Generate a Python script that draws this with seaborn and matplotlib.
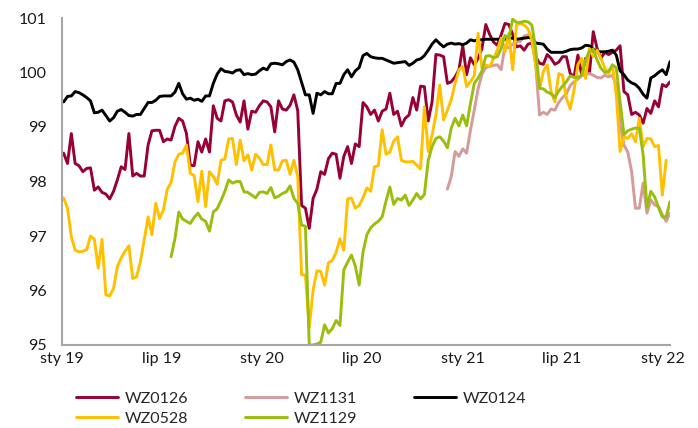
import numpy as np
import pandas as pd
import matplotlib
matplotlib.use("Agg")
import matplotlib.pyplot as plt
from matplotlib.lines import Line2D
import seaborn as sns

nan = np.nan

# Weekly quotes, Jan 2019 - Jan 2022
dates = pd.date_range("2019-01-04", periods=159, freq="7D")

wz0126 = [
    98.52, 98.33, 98.88, 98.33, 98.29, 98.18, 98.24, 98.25, 97.84, 97.90,
    97.80, 97.77, 97.68, 97.82, 98.03, 98.27, 98.22, 98.88, 98.10, 98.15,
    98.10, 98.10, 98.67, 98.93, 98.94, 98.94, 98.73, 98.78, 98.76, 99.01,
    99.16, 99.11,
    98.88, 98.30, 98.29, 98.73, 98.54, 98.78, 98.54, 99.39, 99.16, 99.11,
    99.48, 99.50, 99.46, 99.22, 99.09, 99.48, 98.96, 99.29, 99.27, 99.39,
    99.48, 99.46, 99.37, 98.91, 99.48, 99.33, 99.31, 99.40, 99.59, 99.30,
    97.56, 97.51, 97.14, 97.69, 97.86, 98.18, 98.13, 98.42, 98.52, 98.50,
    98.06, 98.46, 98.64, 98.33, 98.69, 98.64, 99.45, 99.37, 99.23, 99.31,
    99.11, 99.29, 99.33, 99.62, 99.23, 99.29, 99.02, 99.16, 99.22, 99.54,
    99.31, 99.75,
    99.74, 99.11, 99.46, 100.33, 100.32, 100.29, 99.80, 99.83, 99.92, 100.05,
    100.49, 99.96, 100.27, 100.14, 100.26, 100.44, 100.88, 100.70, 100.56, 100.50,
    100.69, 100.90, 100.88, 100.70, 100.47, 100.49, 100.41, 100.52, 100.54, 100.29,
    100.17,
    100.15, 100.33, 100.26, 100.15, 100.19, 100.29, 100.29, 99.98, 99.92, 100.32,
    99.95, 100.26, 99.98, 100.75, 100.44, 100.26, 100.37, 100.33, 100.37, 100.41,
    100.49, 99.65, 99.59, 99.23, 99.27, 99.22, 99.07, 99.34, 99.25, 99.48,
    99.37, 99.78, 99.74, 99.83,
]

wz1131 = [nan] * 100 + [
    97.86, 98.09, 98.55, 98.46, 98.60, 98.52, 98.94, 99.31, 99.70, 99.97,
    100.09, 100.11, 100.13, 100.14, 100.05, 100.49, 100.45, 100.52, 100.56, 100.57,
    100.67, 100.69, 100.60, 100.14, 99.22,
    99.27, 99.23, 99.33, 99.31, 99.45, 99.54, 99.61, 99.76, 99.83, 99.88,
    99.94, 99.97, 99.98, 99.95, 99.91, 99.90, 99.95, 99.92, 99.95, 99.76,
    99.04, 98.67, 98.54, 98.18, 97.51, 97.51, 97.97, 97.42, 97.66, 97.57,
    97.54, 97.39, 97.27, 97.42,
]

wz0124 = [
    99.46, 99.56, 99.57, 99.65, 99.63, 99.59, 99.54, 99.48, 99.26, 99.27,
    99.31, 99.21, 99.11, 99.17, 99.29, 99.32, 99.27, 99.21, 99.20, 99.23,
    99.23, 99.34, 99.45, 99.45, 99.49, 99.56, 99.57, 99.57, 99.57, 99.64,
    99.80, 99.61,
    99.51, 99.53, 99.49, 99.51, 99.47, 99.57, 99.57, 99.80, 99.97, 100.07,
    100.02, 100.01, 99.99, 100.04, 100.05, 99.96, 99.98, 99.96, 99.97, 100.03,
    100.08, 100.05, 100.16, 100.17, 100.16, 100.14, 100.20, 100.23, 100.19, 100.05,
    99.82,
    99.59, 99.59, 99.25, 99.62, 99.59, 99.65, 99.61, 99.61, 99.80, 99.80,
    99.96, 100.05, 99.92, 100.03, 100.09, 100.31, 100.35, 100.29, 100.27, 100.26,
    100.26, 100.23, 100.20, 100.17, 100.18, 100.19, 100.20, 100.13, 100.17, 100.23,
    100.25,
    100.31, 100.41, 100.52, 100.60, 100.53, 100.47, 100.52, 100.54, 100.52, 100.53,
    100.51, 100.54, 100.60, 100.58, 100.60, 100.60, 100.61, 100.61, 100.61, 100.61,
    100.61, 100.61, 100.63, 100.63, 100.61, 100.62, 100.63, 100.64, 100.64, 100.54,
    100.53,
    100.52, 100.43, 100.37, 100.37, 100.37, 100.37, 100.39, 100.42, 100.43, 100.43,
    100.45, 100.50, 100.49, 100.43, 100.38, 100.38, 100.38, 100.39, 100.41, 100.32,
    100.03, 99.96, 99.86, 99.81, 99.78, 99.71, 99.60, 99.53, 99.90, 99.94,
    100.00, 100.05, 99.96, 100.20,
]

wz0528 = [
    97.70, 97.51, 96.99, 96.74, 96.71, 96.72, 96.75, 97.00, 96.94, 96.41,
    96.94, 95.92, 95.90, 96.04, 96.44, 96.60, 96.72, 96.82, 96.22, 96.25,
    96.53, 96.93, 97.35, 97.02, 97.60, 97.32, 97.48, 97.86, 97.98, 98.36,
    98.50, 98.52,
    98.67, 98.15, 98.11, 97.63, 98.19, 97.54, 98.18, 98.09, 97.95, 98.39,
    98.41, 98.78, 98.79, 98.31, 98.76, 98.38, 98.49, 98.21, 98.50, 98.43,
    98.31, 98.31, 98.67, 98.21, 98.21, 98.38, 98.39, 98.13, 98.39, 98.09,
    96.29, 96.28, 95.32, 96.01, 96.36, 96.35, 96.10, 96.51, 96.55, 96.70,
    96.95, 96.74, 97.68, 97.70, 97.51, 97.56, 97.70, 97.88, 97.82, 98.27,
    98.29, 98.95, 98.50, 98.54, 98.74, 98.82, 98.39, 98.36, 98.36, 98.37,
    98.30, 98.23,
    99.37, 98.55, 98.85, 99.22, 99.77, 99.13, 99.31, 99.50, 99.80, 100.05,
    100.11, 99.74, 99.83, 99.94, 100.72, 100.08, 100.14, 100.11, 100.25, 100.41,
    100.63, 100.38, 100.72, 100.05, 100.87, 100.90, 100.87, 100.80, 100.60, 100.14,
    99.70,
    100.02, 100.14, 99.65, 99.46, 99.98, 99.95, 99.53, 99.33, 99.68, 100.14,
    100.26, 99.89, 100.44, 100.29, 100.41, 100.26, 100.08, 99.98, 100.14, 99.59,
    98.55, 98.82, 98.79, 98.88, 98.73, 99.16, 98.64, 98.79, 98.78, 98.64,
    98.66, 97.75, 98.39, nan,
]

wz1129 = [nan] * 28 + [
    96.62, 96.95, 97.44, 97.31,
    97.27, 97.23, 97.34, 97.42, 97.31, 97.27, 97.09, 97.44, 97.50, 97.65,
    97.82, 98.03, 97.97, 98.00, 98.00, 97.81, 97.80, 97.75, 97.70, 97.80,
    97.81, 97.78, 97.89, 97.70, 97.73, 97.78, 97.81, 97.92, 97.69, 97.60,
    97.20,
    97.18, 95.00, 95.00, 95.02, 95.05, 95.37, 95.22, 95.30, 95.45, 95.36,
    96.38, 96.52, 96.65, 96.45, 96.10, 96.70, 97.02, 97.15, 97.22, 97.27,
    97.35, 97.64, 97.90, 97.58, 97.69, 97.66, 97.75, 97.56, 97.66, 97.78,
    97.68,
    97.76, 98.39, 98.64, 98.79, 98.82, 98.74, 98.62, 98.98, 99.16, 99.02,
    99.22, 99.02, 99.43, 99.80, 99.90, 100.03, 100.30, 100.31, 100.27, 100.29,
    100.44, 100.68, 100.63, 100.98, 100.92, 100.92, 100.94, 100.93, 100.87, 100.44,
    99.71,
    99.70, 99.64, 99.61, 99.54, 99.66, 99.75, 99.83, 99.94, 99.91, 99.91,
    99.96, 100.23, 100.39, 100.43, 100.23, 100.08, 100.00, 100.02, 100.14, 100.09,
    99.46, 98.86, 98.93, 98.96, 98.98, 98.98, 98.49, 97.52, 97.82, 97.72,
    97.52, 97.35, 97.35, 97.63,
]

series_names = ["WZ0126", "WZ1131", "WZ0124", "WZ0528", "WZ1129"]
colors = {
    "WZ0126": "#990035",
    "WZ1131": "#D59A9A",
    "WZ0124": "#000000",
    "WZ0528": "#FFC000",
    "WZ1129": "#99BE0E",
}

tick_dates = pd.to_datetime(["2019-01-01", "2019-07-01", "2020-01-01", "2020-07-01",
                             "2021-01-01", "2021-07-01", "2022-01-01"])
tick_labels = ["sty 19", "lip 19", "sty 20", "lip 20", "sty 21", "lip 21", "sty 22"]
y_ticks = [95, 96, 97, 98, 99, 100, 101]

wide = pd.DataFrame({"date": dates, "WZ0126": wz0126, "WZ1131": wz1131,
                     "WZ0124": wz0124, "WZ0528": wz0528, "WZ1129": wz1129})
long = wide.melt(id_vars="date", var_name="series", value_name="price").dropna()

sns.set_style("white")
plt.rcParams["font.family"] = ["Lato", "DejaVu Sans"]

fig = plt.figure(figsize=(6.98, 4.28), dpi=100)
ax = fig.add_axes([62 / 698, 1 - 345 / 428, (670 - 62) / 698, (345 - 18) / 428])

sns.lineplot(data=long, x="date", y="price", hue="series", hue_order=series_names,
             palette=colors, linewidth=2.1, estimator=None, legend=False, ax=ax)

ax.set_ylim(95, 101)
ax.set_xlim(pd.Timestamp("2019-01-01"), dates[-1])
ax.set_yticks(y_ticks)
ax.set_yticklabels([str(v) for v in y_ticks])
ax.set_xticks(tick_dates)
ax.set_xticklabels(tick_labels)
ax.set_xlabel("")
ax.set_ylabel("")

grey = "#A6A6A6"
for side in ("top", "right"):
    ax.spines[side].set_visible(False)
for side in ("left", "bottom"):
    ax.spines[side].set_color(grey)
    ax.spines[side].set_linewidth(1.5)
ax.tick_params(axis="both", which="major", direction="out", length=5, width=1.5,
               color=grey, labelsize=11.5, labelcolor="#1a1a1a")
ax.tick_params(axis="y", pad=6)
ax.tick_params(axis="x", pad=0)

# legend: three columns, filled column by column
order = ["WZ0126", "WZ0528", "WZ1131", "WZ1129", "WZ0124"]
handles = [Line2D([0], [0], color=colors[n], lw=2.1) for n in order]
fig.legend(handles, order, ncol=3, loc="upper left",
           bbox_to_anchor=(70 / 698, 1 - 385 / 428), frameon=False,
           fontsize=11.5, handlelength=2.6, handletextpad=0.45,
           columnspacing=3.55, labelspacing=0.38, borderaxespad=0)

fig.savefig("out.png", dpi=100)
